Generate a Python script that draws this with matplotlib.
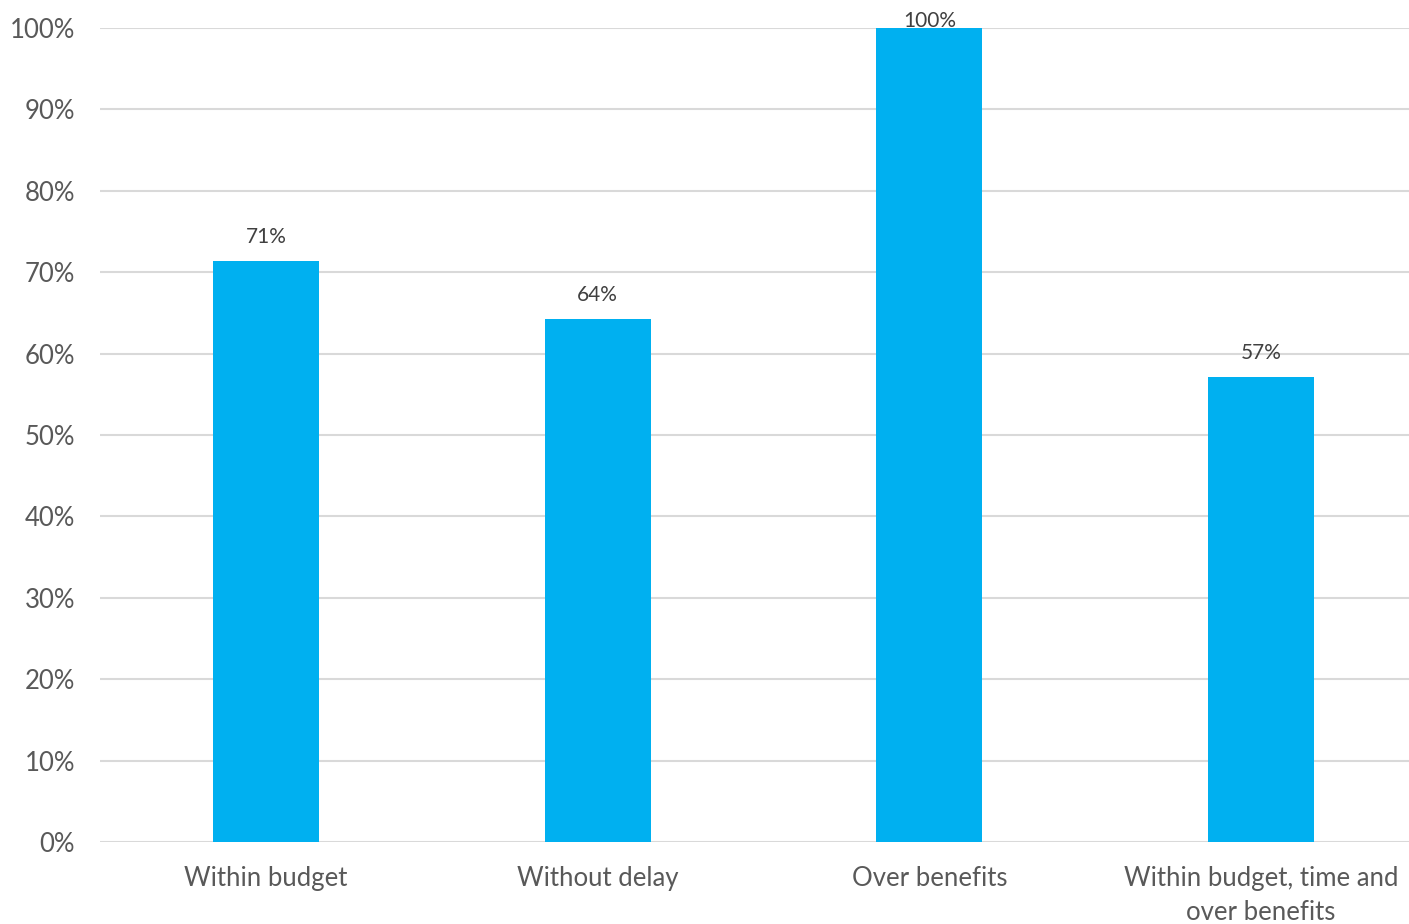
import matplotlib
matplotlib.use("Agg")
import matplotlib.pyplot as plt
from matplotlib.ticker import FuncFormatter

# données
categories = ["Within budget", "Without delay", "Over benefits", "Within budget, time and\nover benefits"]
values = [71.4, 64.3, 100.0, 57.1]
labels = ["71%", "64%", "100%", "57%"]

plt.rcParams['font.family'] = ['Lato', 'DejaVu Sans']

fig = plt.figure(figsize=(14.09, 9.24), dpi=100)
ax = fig.add_axes([100/1409, 82/924, 1327/1409, 814/924])

x = range(len(categories))
ax.bar(x, values, width=0.32, color="#00B0F0", zorder=3)

for i, v in enumerate(values):
    # la barre à 100% touche le haut de la figure : étiquette collée à la barre
    dy = 10 if v < 99 else -2
    ax.annotate(labels[i], (i, v), xytext=(0, dy), textcoords="offset points",
                ha="center", va="bottom", fontsize=15, color="#404040", zorder=4)

ax.set_xlim(-0.5, 3.5)
ax.set_ylim(0, 100)
ax.set_yticks(range(0, 101, 10))
ax.yaxis.set_major_formatter(FuncFormatter(lambda v, p: f"{v:.0f}%"))
ax.set_xticks(list(x))
ax.set_xticklabels(categories)

ax.grid(axis="y", color="#D9D9D9", linewidth=1.5, zorder=0)
for s in ax.spines.values():
    s.set_visible(False)
ax.tick_params(axis="both", length=0, labelsize=18.5, colors="#595959")
ax.tick_params(axis="y", pad=18)
ax.tick_params(axis="x", pad=17)
for t in ax.get_xticklabels():
    t.set_linespacing(1.45)

fig.savefig("out.png", dpi=100)
